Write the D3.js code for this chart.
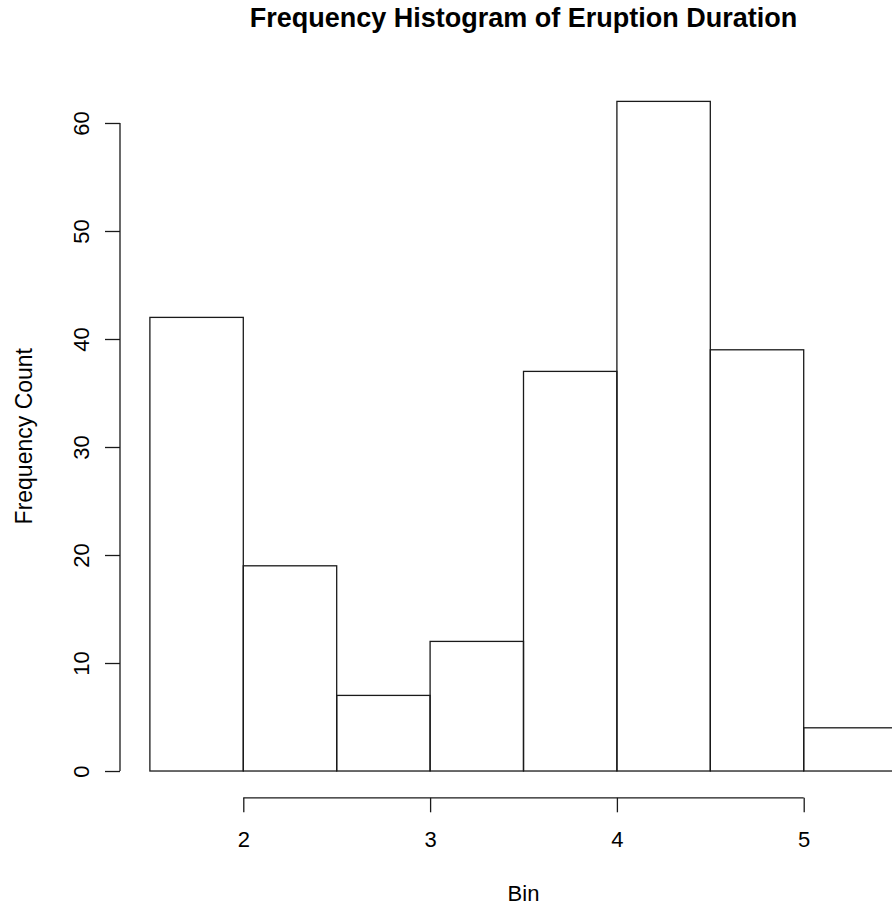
<!DOCTYPE html>
<html>
<head>
<meta charset="utf-8">
<script src="https://cdn.jsdelivr.net/npm/d3@7"></script>
<style>
  html, body { margin: 0; padding: 0; background: #fff; overflow: hidden; }
  text { font-family: "Liberation Sans", Arial, Helvetica, sans-serif; fill: #000; }
</style>
</head>
<body>
<div id="chart"></div>
<script>
// bin edges and counts
const binStarts = [1.5, 2.0, 2.5, 3.0, 3.5, 4.0, 4.5, 5.0];
const binEnds   = [2.0, 2.5, 3.0, 3.5, 4.0, 4.5, 5.0, 5.5];
const counts    = [42, 19, 7, 12, 37, 62, 39, 4];
const xTicks = [2, 3, 4, 5];
const yTicks = [0, 10, 20, 30, 40, 50, 60];

const width = 892, height = 906;
// plot region (R style, the device was wider than the crop)
const plot = { left: 120, right: 927, top: 74.6, bottom: 797.8 };
const lineColor = "#1a1a1a";

const svg = d3.select("#chart").append("svg")
  .attr("width", width)
  .attr("height", height);

// R pads the data range by 4% on each side
const xLo = d3.min(binStarts), xHi = d3.max(binEnds);
const xPad = (xHi - xLo) * 0.04;
const yHi = d3.max(counts);
const yPad = yHi * 0.04;

const x = d3.scaleLinear().domain([xLo - xPad, xHi + xPad]).range([plot.left, plot.right]);
const y = d3.scaleLinear().domain([-yPad, yHi + yPad]).range([plot.bottom, plot.top]);

// bars
svg.append("g")
  .selectAll("rect")
  .data(counts)
  .enter()
  .append("rect")
  .attr("x", (d, i) => x(binStarts[i]))
  .attr("width", (d, i) => x(binEnds[i]) - x(binStarts[i]))
  .attr("y", d => y(d))
  .attr("height", d => y(0) - y(d))
  .attr("fill", "none")
  .attr("stroke", lineColor)
  .attr("stroke-width", 1.3);

// x axis
const xAxis = d3.axisBottom(x).tickValues(xTicks).tickSize(14.5).tickFormat(d3.format("d"));
const gx = svg.append("g")
  .attr("transform", `translate(0,${plot.bottom})`)
  .call(xAxis);
gx.select(".domain").remove();
gx.append("line")
  .attr("x1", x(xTicks[0])).attr("x2", x(xTicks[xTicks.length - 1]))
  .attr("y1", 0).attr("y2", 0)
  .attr("stroke", lineColor).attr("stroke-width", 1.3);
gx.selectAll(".tick line").attr("stroke", lineColor).attr("stroke-width", 1.3);
gx.selectAll(".tick text")
  .attr("y", 49.5)
  .attr("dy", null)
  .style("font-size", "22px")
  .style("font-family", "Liberation Sans, Arial, sans-serif")
  .attr("fill", "#000");

// y axis
const yAxis = d3.axisLeft(y).tickValues(yTicks).tickSize(15).tickFormat(d3.format("d"));
const gy = svg.append("g")
  .attr("transform", `translate(${plot.left},0)`)
  .call(yAxis);
gy.select(".domain").remove();
gy.append("line")
  .attr("x1", 0).attr("x2", 0)
  .attr("y1", y(yTicks[0])).attr("y2", y(yTicks[yTicks.length - 1]))
  .attr("stroke", lineColor).attr("stroke-width", 1.3);
gy.selectAll(".tick line").attr("stroke", lineColor).attr("stroke-width", 1.3);
gy.selectAll(".tick text")
  .attr("x", null)
  .attr("dy", null)
  .attr("text-anchor", "middle")
  .attr("transform", "translate(-31,0) rotate(-90)")
  .style("font-size", "22px")
  .style("font-family", "Liberation Sans, Arial, sans-serif")
  .attr("fill", "#000");

const cx = (plot.left + plot.right) / 2;
const cy = (plot.top + plot.bottom) / 2;

// title
svg.append("text")
  .text("Frequency Histogram of Eruption Duration")
  .attr("x", cx)
  .attr("y", 27)
  .attr("text-anchor", "middle")
  .style("font-size", "27px")
  .style("font-weight", "bold");

// axis titles
svg.append("text")
  .text("Bin")
  .attr("x", cx)
  .attr("y", 901)
  .attr("text-anchor", "middle")
  .style("font-size", "22px");

svg.append("text")
  .text("Frequency Count")
  .attr("transform", `translate(32,${cy}) rotate(-90)`)
  .attr("text-anchor", "middle")
  .style("font-size", "23px");
</script>
</body>
</html>
